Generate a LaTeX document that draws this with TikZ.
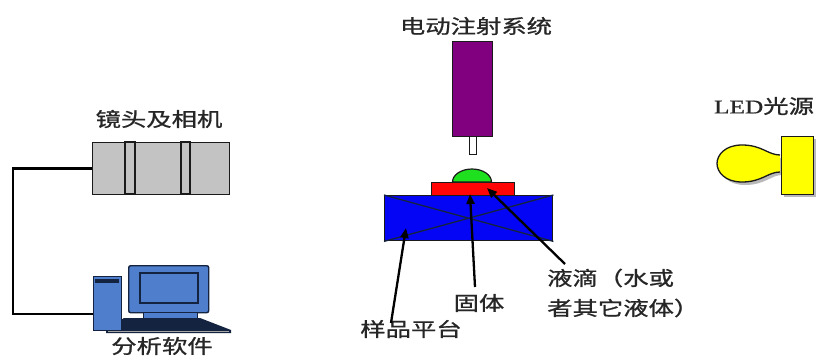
\documentclass[tikz,border=0pt]{standalone}
\usepackage{fontspec}
\usepackage{graphicx}
\newfontfamily\cjk[FakeBold=0.8]{Noto Sans CJK SC}
\newfontfamily\latinserif[FakeBold=0.8]{Liberation Serif}
\usetikzlibrary{arrows.meta}
% horizontally widened lettering
\newcommand{\wide}[1]{\scalebox{1.3}[1]{#1}}
\definecolor{camgray}{HTML}{C3C3C3}
\definecolor{edge}{HTML}{1A1A1A}
\definecolor{pcblue}{HTML}{4F7FCC}
\definecolor{pcdark}{HTML}{14233F}
\definecolor{inject}{HTML}{800080}
\definecolor{stageblue}{HTML}{0505F5}
\definecolor{solidred}{HTML}{FF0505}
\definecolor{dropgreen}{HTML}{1FE01F}
\definecolor{ledyellow}{HTML}{FFFF00}
\definecolor{txt}{HTML}{262626}
\begin{document}
\begin{tikzpicture}[x=1pt,y=-1pt,
  lbl/.style={font=\cjk\fontsize{19.5}{30}\selectfont, text=txt, inner sep=0pt},
  box/.style={draw=edge, line width=1.4pt, inner sep=0pt, anchor=north west},
  ptr/.style={draw=black, line width=2.3pt, -{Triangle[length=10pt,width=8pt]}},
  wire/.style={draw=black, line width=2.6pt}]
\useasboundingbox[fill=white] (0,0) rectangle (819,361);

% ---- lens and camera ----
\node[box, fill=camgray, minimum width=137pt, minimum height=52pt] (cam) at (92,142) {};
\draw[draw=edge, line width=2pt] (125,142) rectangle (135,194);
\draw[draw=edge, line width=2pt] (181,142) rectangle (190,194);
\node[lbl] (camlbl) at (159,119) {\wide{镜头及相机}};

% ---- analysis computer ----
\node[box, draw=pcdark, fill=pcblue, rounded corners=2pt, minimum width=80pt, minimum height=47pt] (monitor) at (128,265) {};
\draw[draw=pcdark, fill=pcblue, line width=1.4pt] (140,273) rectangle (198,303);
\draw[draw=pcdark, fill=pcblue, line width=1pt] (143,312) rectangle (197,318);
\fill[pcdark] (124,318) -- (200,318) -- (231,330) -- (231,333) -- (106,333) -- (106,329) -- cycle;
\draw[draw=gray!70, line width=0.8pt] (108,331) -- (229,331);
\node[box, draw=pcdark, fill=pcblue, minimum width=28pt, minimum height=54pt] (tower) at (93,276) {};
\fill[pcdark] (95,279) rectangle (119,283);
\node[lbl] (pclbl) at (162,346) {\wide{分析软件}};

% camera cable
\coordinate (pcport) at (93,314);
\draw[wire] (cam.west) -- ++(-79,0) |- (pcport);

% ---- motorised injection system ----
\node[lbl] (pumplbl) at (476,26) {\wide{电动注射系统}};
\node[box, fill=inject, minimum width=40pt, minimum height=95pt] (pump) at (452,41) {};
\node[box, fill=white, line width=1.2pt, minimum width=7pt, minimum height=18pt] (needle) at (469,136) {};

% ---- sample stage, solid and droplet ----
\node[box, fill=stageblue, minimum width=168pt, minimum height=45pt] (stage) at (384,195) {};
\draw[draw=pcdark, line width=1.3pt] (stage.north west) -- (stage.south east)
                                     (stage.south west) -- (stage.north east);
\node[box, fill=solidred, minimum width=83pt, minimum height=13pt] (solid) at (431,182) {};
\draw[fill=dropgreen, draw=edge, line width=1.2pt]
  (452.5,182) arc[start angle=180, end angle=360, x radius=19.5, y radius=13] -- cycle;

% ---- LED light source ----
\node[lbl] (ledlbl) at (764,106) {\wide{{\latinserif LED}光源}};
\begin{scope}[shift={(3,3)}]
  \fill[gray!55] (779,155) .. controls (768,155) and (762,145) .. (742,145)
    .. controls (725,145) and (717,155) .. (717,163.5)
    .. controls (717,172) and (725,182) .. (742,182)
    .. controls (762,182) and (768,172) .. (779,172) -- cycle;
  \fill[gray!55] (781,136) rectangle (813,194);
\end{scope}
\draw[fill=ledyellow, draw=edge, line width=1.3pt]
  (780,155) .. controls (768,155) and (762,145) .. (742,145)
  .. controls (725,145) and (717,155) .. (717,163.5)
  .. controls (717,172) and (725,182) .. (742,182)
  .. controls (762,182) and (768,172) .. (780,172);
\node[box, fill=ledyellow, line width=1.3pt, minimum width=32pt, minimum height=58pt] (led) at (781,136) {};

% ---- callouts ----
\node[lbl] (stagelbl) at (411,329) {\wide{样品平台}};
\node[lbl] (solidlbl) at (479,303) {\wide{固体}};
\node[lbl, align=left, anchor=west] (droplbl) at (547,293) {\wide{液滴（水或}\\\wide{者其它液体）}};

\coordinate (stagefrom) at (391,323);
\coordinate (stageto) at (406,228);
\coordinate (solidfrom) at (475,287);
\coordinate (solidto) at (470,194);
\coordinate (dropfrom) at (565,264);
\coordinate (dropto) at (487,188);
\draw[ptr] (stagefrom) -- (stageto);
\draw[ptr] (solidfrom) -- (solidto);
\draw[ptr] (dropfrom) -- (dropto);
\end{tikzpicture}
\end{document}
